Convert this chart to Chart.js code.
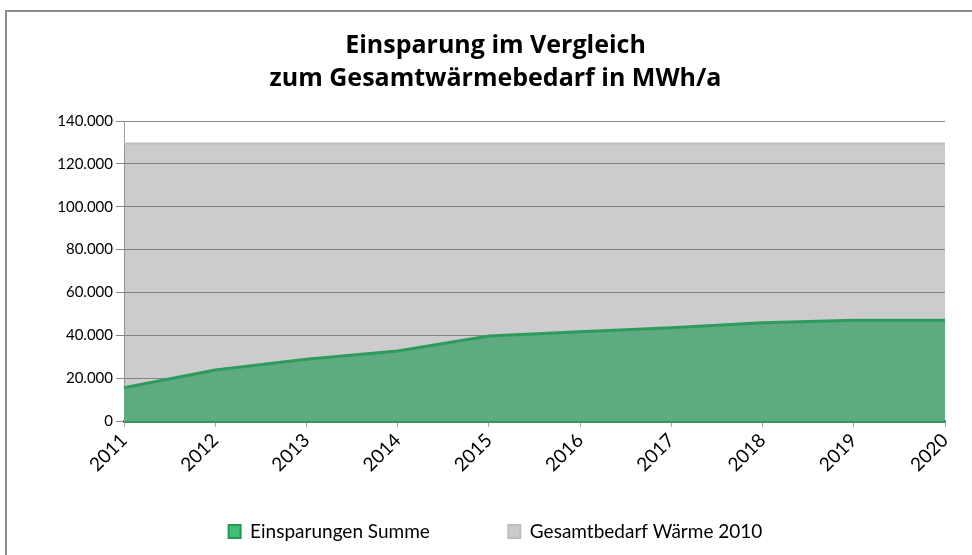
<!DOCTYPE html>
<html>
<head>
<meta charset="utf-8">
<script src="https://cdn.jsdelivr.net/npm/chart.js@4.4.0/dist/chart.umd.min.js"></script>
<style>
  html, body { margin: 0; padding: 0; background: #fff; }
  #frame {
    position: absolute; left: 5px; top: 10px; width: 990px; height: 570px;
    border: 2px solid #8c8c8c; box-sizing: border-box;
  }
  #wrap { position: absolute; left: 0; top: 0; width: 972px; height: 555px; }
</style>
</head>
<body>
<div id="frame"></div>
<div id="wrap"><canvas id="myChart"></canvas></div>
<script>
// Jahre (Kategorien)
const years = ["2011", "2012", "2013", "2014", "2015", "2016", "2017", "2018", "2019", "2020"];
// Einsparungen Summe in MWh/a
const einsparungen = [15500, 23800, 28800, 32700, 39700, 41700, 43500, 45900, 47000, 47000];
// Gesamtbedarf Wärme 2010 in MWh/a
const gesamtbedarf = [129500, 129500, 129500, 129500, 129500, 129500, 129500, 129500, 129500, 129500];
// Achsenwerte
const yMin = 0;
const yMax = 140000;
const yStep = 20000;

const textFont = "Lato, 'Open Sans', sans-serif";
const titleFont = "'Open Sans', Lato, sans-serif";

// Zahl im deutschen Format (Tausenderpunkt)
function formatDe(v) {
  return String(v).replace(/\B(?=(\d{3})+(?!\d))/g, ".");
}

function main() {
  const ctx = document.getElementById("myChart").getContext("2d");
  new Chart(ctx, {
    type: "line",
    data: {
      labels: years,
      datasets: [
        {
          label: "Einsparungen Summe",
          data: einsparungen,
          backgroundColor: "#5fab81",
          borderColor: "#2e9b5e",
          borderWidth: 3,
          pointRadius: 0,
          tension: 0,
          fill: "origin",
        },
        {
          label: "Gesamtbedarf Wärme 2010",
          data: gesamtbedarf,
          backgroundColor: "rgba(128,128,128,0.4)",
          borderColor: "rgba(190,190,190,1)",
          borderWidth: 2,
          pointRadius: 0,
          tension: 0,
          fill: "origin",
        },
      ],
    },
    options: {
      responsive: true,
      maintainAspectRatio: false,
      animation: false,
      layout: { padding: { left: 46, right: 27, top: 0, bottom: 4 } },
      plugins: {
        title: {
          display: true,
          text: ["Einsparung im Vergleich", "zum Gesamtwärmebedarf in MWh/a"],
          color: "#000",
          font: { family: titleFont, size: 25, weight: "bold", lineHeight: 1.32 },
          padding: { top: 29, bottom: 26 },
        },
        legend: {
          position: "bottom",
          labels: {
            color: "#000",
            font: { family: textFont, size: 19 },
            boxWidth: 12,
            boxHeight: 13,
            padding: 12,
            generateLabels(chart) {
              const items = Chart.defaults.plugins.legend.labels.generateLabels(chart);
              items.forEach((it, i) => {
                it.lineWidth = 2;
                if (i === 0) {
                  it.fillStyle = "#3fbf74";
                  it.strokeStyle = "#1f9a50";
                  it.text = it.text + "\u2003\u2003\u2003\u2003\u2002";
                } else {
                  it.fillStyle = "#cccccc";
                  it.strokeStyle = "#bdbdbd";
                }
              });
              return items;
            },
          },
        },
        tooltip: { enabled: false },
      },
      scales: {
        x: {
          offset: false,
          afterFit(scale) {
            scale.height = 89;
          },
          grid: {
            drawOnChartArea: false,
            drawTicks: true,
            tickLength: 6,
            tickColor: "#a0a0a0",
          },
          border: { color: "#2e9b5e", width: 3 },
          ticks: {
            color: "#000",
            font: { family: textFont, size: 19 },
            minRotation: 45,
            maxRotation: 45,
            padding: 2,
          },
        },
        y: {
          min: yMin,
          max: yMax,
          afterFit(scale) {
            scale.width = 78;
          },
          grid: {
            color: "#868686",
            tickColor: "#868686",
            tickLength: 8,
          },
          border: { color: "#a0a0a0", width: 1 },
          ticks: {
            stepSize: yStep,
            color: "#000",
            padding: 3,
            font: { family: textFont, size: 15 },
            callback: (v) => formatDe(v),
          },
        },
      },
    },
  });
}

document.addEventListener("DOMContentLoaded", main);
</script>
</body>
</html>
